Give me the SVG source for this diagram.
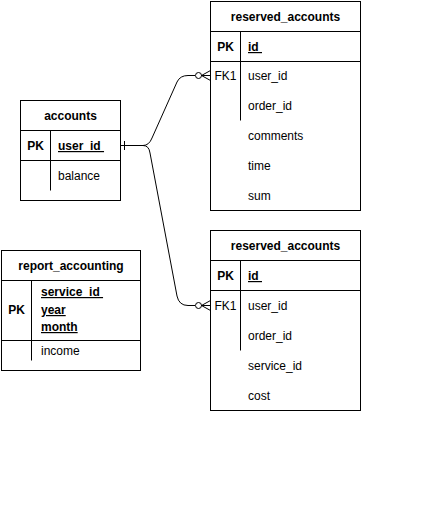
<svg xmlns="http://www.w3.org/2000/svg" width="421" height="511" viewBox="0 0 421 511">
<style>
.box{fill:#fff;stroke:#000;stroke-width:1}
.ln{fill:none;stroke:#000;stroke-width:1}
text{font-family:"Liberation Sans",Arial,Helvetica,sans-serif;font-size:12px;fill:#000}
.b{font-weight:bold}
.c{text-anchor:middle}
.u{text-decoration:underline}
.edge{fill:none;stroke:#000;stroke-width:1}
.circ{fill:#fff;stroke:#000;stroke-width:1}
</style>
<rect width="421" height="511" fill="#fff"/>

<g id="accounts">
<rect class="box" x="20.5" y="100.5" width="100" height="100"/>
<line class="ln" x1="20.5" y1="130.5" x2="120.5" y2="130.5"/>
<line class="ln" x1="20.5" y1="160.5" x2="120.5" y2="160.5"/>
<line class="ln" x1="50.5" y1="130.5" x2="50.5" y2="190.5"/>
<text class="b c" x="70.5" y="120">accounts</text>
<text class="b c" x="35.5" y="150">PK</text>
<text class="b u" x="58" y="150" xml:space="preserve">user_id </text>
<text x="58" y="180">balance</text>
</g>

<g id="reserved_accounts_1">
<rect class="box" x="210.5" y="1.5" width="150" height="209"/>
<line class="ln" x1="210.5" y1="31.5" x2="360.5" y2="31.5"/>
<line class="ln" x1="210.5" y1="61.5" x2="360.5" y2="61.5"/>
<line class="ln" x1="240.5" y1="31.5" x2="240.5" y2="120.5"/>
<text class="b c" x="285.5" y="21">reserved_accounts</text>
<text class="b c" x="225.5" y="51">PK</text>
<text class="b u" x="248" y="51" xml:space="preserve">id </text>
<text class="c" x="225.5" y="80">FK1</text>
<text x="248" y="80">user_id</text>
<text x="248" y="110">order_id</text>
<text x="248" y="140">comments</text>
<text x="248" y="170">time</text>
<text x="248" y="200">sum</text>
</g>

<g id="reserved_accounts_2">
<rect class="box" x="210.5" y="230.5" width="150" height="180"/>
<line class="ln" x1="210.5" y1="260.5" x2="360.5" y2="260.5"/>
<line class="ln" x1="210.5" y1="290.5" x2="360.5" y2="290.5"/>
<line class="ln" x1="240.5" y1="260.5" x2="240.5" y2="350.5"/>
<text class="b c" x="285.5" y="250">reserved_accounts</text>
<text class="b c" x="225.5" y="280">PK</text>
<text class="b u" x="248" y="280" xml:space="preserve">id </text>
<text class="c" x="225.5" y="310">FK1</text>
<text x="248" y="310">user_id</text>
<text x="248" y="340">order_id</text>
<text x="248" y="370">service_id</text>
<text x="248" y="400">cost</text>
</g>

<g id="report_accounting">
<rect class="box" x="1.5" y="250.5" width="139" height="120"/>
<line class="ln" x1="1.5" y1="280.5" x2="140.5" y2="280.5"/>
<line class="ln" x1="1.5" y1="340.5" x2="140.5" y2="340.5"/>
<line class="ln" x1="31.5" y1="280.5" x2="31.5" y2="360.5"/>
<text class="b c" x="71" y="270">report_accounting</text>
<text class="b c" x="16.5" y="314">PK</text>
<text class="b u" x="41" y="296" xml:space="preserve">service_id </text>
<text class="b u" x="41" y="314">year</text>
<text class="b u" x="41" y="331">month</text>
<text x="41" y="355">income</text>
</g>

<g id="connectors">
<path class="edge" d="M120.5,145.5 L143,145.5 Q149,145.5 152,138 L177,82 Q180,75.5 188,75.5 L195,75.5"/>
<line class="edge" x1="124.5" y1="141" x2="124.5" y2="150"/>
<circle class="circ" cx="198.5" cy="75.5" r="3"/>
<path class="edge" d="M201.5,75.5 L210.5,70.5 M201.5,75.5 L210.5,75.5 M201.5,75.5 L210.5,80.5"/>
<path class="edge" d="M143,145.5 Q149,145.5 150,153 L177,296 Q179,305.5 188,305.5 L195,305.5"/>
<circle class="circ" cx="198.5" cy="305.5" r="3"/>
<path class="edge" d="M201.5,305.5 L210.5,300.5 M201.5,305.5 L210.5,305.5 M201.5,305.5 L210.5,310.5"/>
</g>
</svg>
